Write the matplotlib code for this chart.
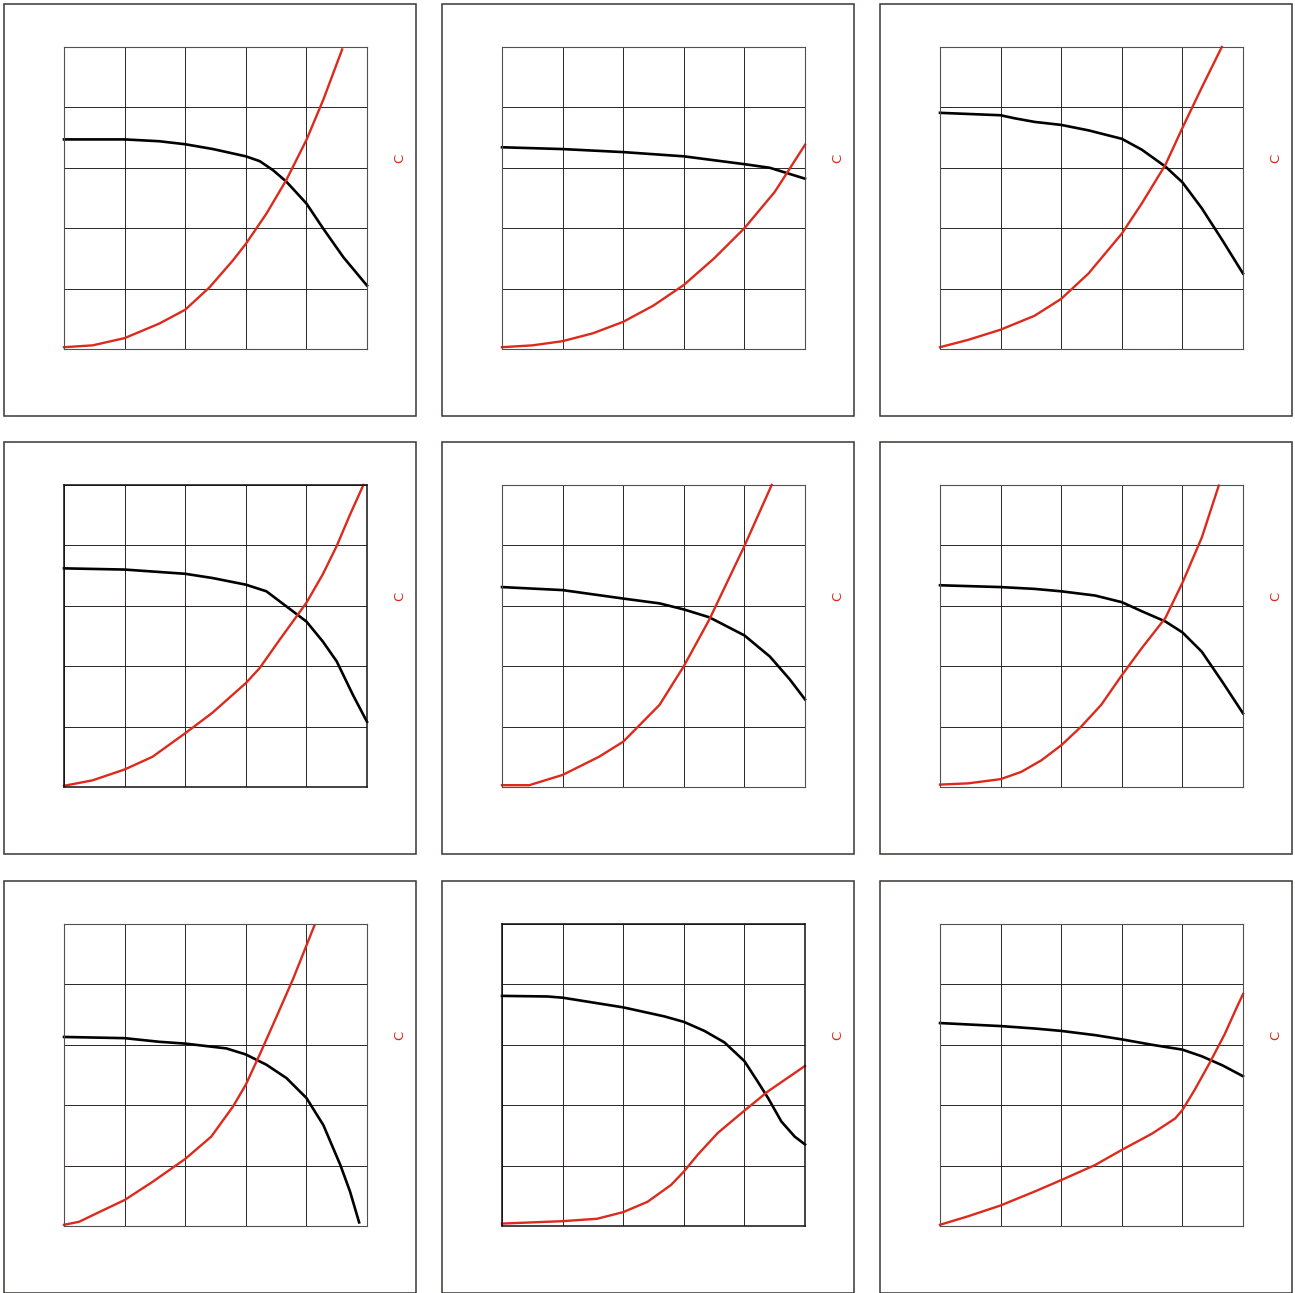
import numpy as np
import matplotlib.pyplot as plt
from matplotlib.patches import Rectangle

# data per panel: x positions and values in grid units (0..5)
black_x = [
    [0, 1, 1.57, 2, 2.46, 3, 3.23, 3.45, 3.67, 4, 4.28, 4.61, 5],
    [0, 1, 2, 3, 4, 4.42, 5],
    [0, 1, 1.23, 1.56, 2, 2.45, 3, 3.33, 3.72, 4, 4.32, 4.66, 5],
    [0, 1, 1.57, 2, 2.45, 3, 3.34, 3.67, 4, 4.27, 4.5, 4.77, 5],
    [0, 1, 2, 2.6, 3, 3.42, 4, 4.42, 4.75, 5],
    [0, 1, 1.56, 2, 2.56, 3, 3.33, 3.72, 4, 4.32, 4.66, 5],
    [0, 1, 1.57, 2, 2.68, 3, 3.34, 3.67, 4, 4.28, 4.56, 4.72, 4.87],
    [0, 0.75, 1, 2, 2.68, 3, 3.34, 3.67, 4, 4.22, 4.39, 4.61, 4.83, 5],
    [0, 1, 1.56, 2, 2.56, 3, 3.5, 4, 4.32, 4.66, 5],
]
black_y = [
    [3.47, 3.47, 3.44, 3.39, 3.31, 3.19, 3.11, 2.96, 2.77, 2.41, 1.99, 1.52, 1.05],
    [3.34, 3.31, 3.26, 3.19, 3.06, 3.0, 2.82],
    [3.91, 3.87, 3.82, 3.76, 3.71, 3.62, 3.48, 3.30, 3.02, 2.76, 2.33, 1.80, 1.25],
    [3.62, 3.60, 3.56, 3.53, 3.46, 3.35, 3.24, 2.99, 2.74, 2.41, 2.08, 1.52, 1.08],
    [3.31, 3.26, 3.12, 3.04, 2.94, 2.81, 2.51, 2.16, 1.78, 1.45],
    [3.34, 3.31, 3.28, 3.24, 3.17, 3.06, 2.91, 2.74, 2.56, 2.24, 1.74, 1.22],
    [3.13, 3.11, 3.05, 3.02, 2.94, 2.84, 2.67, 2.45, 2.12, 1.67, 1.01, 0.57, 0.06],
    [3.81, 3.80, 3.78, 3.62, 3.47, 3.38, 3.23, 3.04, 2.73, 2.39, 2.12, 1.73, 1.48, 1.35],
    [3.36, 3.31, 3.27, 3.23, 3.16, 3.09, 3.00, 2.92, 2.81, 2.66, 2.48],
]
red_x = [
    [0, 0.47, 1, 1.57, 2, 2.4, 2.79, 3, 3.34, 3.67, 4, 4.28, 4.59],
    [0, 0.5, 1, 1.5, 2, 2.5, 3, 3.5, 4, 4.5, 5],
    [0, 0.46, 1, 1.56, 2, 2.45, 3, 3.33, 3.72, 4, 4.32, 4.65],
    [0, 0.47, 1, 1.46, 2, 2.45, 3, 3.23, 3.56, 4, 4.27, 4.5, 4.72, 4.94],
    [0, 0.45, 1, 1.6, 2, 2.6, 3, 3.42, 4, 4.45],
    [0, 0.46, 1, 1.34, 1.67, 2, 2.33, 2.66, 3, 3.33, 3.72, 4, 4.32, 4.6],
    [0, 0.25, 0.58, 1, 1.46, 2, 2.43, 2.79, 3, 3.23, 3.5, 3.78, 4.13],
    [0, 1, 1.57, 2, 2.4, 2.79, 3, 3.23, 3.56, 4, 4.39, 5],
    [0, 0.46, 1, 1.56, 2, 2.56, 3, 3.5, 3.88, 4, 4.2, 4.45, 4.7, 4.87, 5],
]
red_y = [
    [0.03, 0.06, 0.18, 0.42, 0.65, 1.02, 1.47, 1.74, 2.24, 2.80, 3.46, 4.13, 4.96],
    [0.03, 0.06, 0.13, 0.26, 0.45, 0.72, 1.06, 1.50, 2.00, 2.60, 3.38],
    [0.03, 0.15, 0.32, 0.55, 0.83, 1.25, 1.91, 2.41, 3.05, 3.66, 4.33, 5.0],
    [0.02, 0.11, 0.29, 0.50, 0.89, 1.23, 1.72, 1.97, 2.44, 3.05, 3.52, 3.99, 4.51, 5.0],
    [0.03, 0.03, 0.20, 0.50, 0.75, 1.36, 2.00, 2.77, 3.99, 5.0],
    [0.04, 0.06, 0.13, 0.25, 0.44, 0.69, 1.00, 1.36, 1.85, 2.30, 2.80, 3.38, 4.13, 4.99],
    [0.02, 0.07, 0.23, 0.43, 0.73, 1.11, 1.48, 1.98, 2.34, 2.84, 3.45, 4.09, 4.97],
    [0.04, 0.08, 0.12, 0.23, 0.40, 0.68, 0.90, 1.18, 1.54, 1.91, 2.23, 2.65],
    [0.02, 0.16, 0.34, 0.57, 0.76, 1.01, 1.26, 1.53, 1.78, 1.92, 2.25, 2.70, 3.18, 3.56, 3.84],
]
side_label = 'C'
thick_frame = [False, False, False, True, False, False, False, True, False]

W, H = 1295, 1293
fig = plt.figure(figsize=(W / 100, H / 100), dpi=100)

col_left = [4, 442, 880]
row_top = [4, 442, 881]
red = '#dc2a1c'

for i in range(9):
    r, c = divmod(i, 3)
    ox, oy = col_left[c], row_top[r]
    # outer box
    fig.patches.append(Rectangle((ox / W, 1 - (oy + 412) / H), 412 / W, 412 / H,
                                 transform=fig.transFigure, fill=False,
                                 edgecolor='#3a3535', linewidth=1.1))
    ax = fig.add_axes([(ox + 60) / W, 1 - (oy + 43 + 302) / H, 303 / W, 302 / H])
    ax.set_xlim(0, 5)
    ax.set_ylim(0, 5)
    ax.set_xticks(np.arange(6))
    ax.set_yticks(np.arange(6))
    ax.grid(True, color='#2a2525', linewidth=0.7)
    ax.tick_params(length=0, labelbottom=False, labelleft=False)
    for s in ax.spines.values():
        s.set_color('#111111' if thick_frame[i] else '#555050')
        s.set_linewidth(1.1 if thick_frame[i] else 0.8)
    ax.plot(black_x[i], black_y[i], color='black', linewidth=1.9, clip_on=False,
            solid_joinstyle='round')
    ax.plot(red_x[i], red_y[i], color=red, linewidth=1.7, clip_on=False,
            solid_joinstyle='round')
    fig.text((ox + 396) / W, 1 - (oy + 43 + 111) / H, side_label, color=red,
             fontsize=9.5, rotation=90, ha='center', va='center')

fig.savefig('out.png', dpi=100)
